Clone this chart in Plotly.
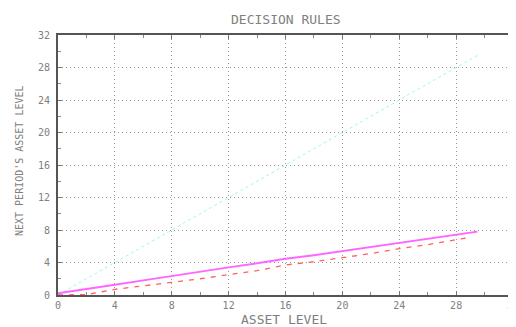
import plotly.graph_objects as go

asset = [0, 2, 4, 6, 8, 10, 12, 14, 16, 18, 20, 22, 24, 26, 28, 29.5]
identity = [0, 2, 4, 6, 8, 10, 12, 14, 16, 18, 20, 22, 24, 26, 28, 29.5]
rule_a = [0.2, 0.7, 1.25, 1.8, 2.35, 2.85, 3.4, 3.9, 4.45, 4.9, 5.4, 5.85, 6.4, 6.9, 7.4, 7.8]
asset_b = [0, 2, 4, 6, 8, 10, 12, 14, 16, 18, 20, 22, 24, 26, 28, 29]
rule_b = [0.0, 0.05, 0.7, 1.1, 1.55, 2.0, 2.5, 3.0, 3.7, 4.1, 4.6, 5.1, 5.7, 6.2, 6.8, 7.1]
ticks = [0, 4, 8, 12, 16, 20, 24, 28, 32]

tick_font = dict(family="DejaVu Sans Mono", size=10, color="#808080")
label_font = dict(family="DejaVu Sans Mono", size=13, color="#808080")
ylabel_font = dict(family="DejaVu Sans Mono", size=10, color="#808080")

fig = go.Figure()
fig.add_trace(go.Scatter(x=asset, y=identity, mode="lines",
                         line=dict(color="#9ff5f5", width=1, dash="dot")))
fig.add_trace(go.Scatter(x=asset_b, y=rule_b, mode="lines",
                         line=dict(color="#ff6060", width=1.3, dash="5px,6px")))
fig.add_trace(go.Scatter(x=asset, y=rule_a, mode="lines",
                         line=dict(color="#ff66ff", width=2)))

axis_common = dict(
    range=[0, 32], tickvals=ticks, ticktext=[str(t) for t in ticks],
    showline=True, linecolor="#555555", linewidth=2, mirror="allticks",
    ticks="inside", ticklen=4, tickcolor="#777777",
    showgrid=True, gridcolor="#999999", griddash="1px,3px", gridwidth=1,
    minor=dict(dtick=2, ticks="inside", ticklen=3, tickcolor="#888888", showgrid=False),
    zeroline=False, tickfont=tick_font, automargin=False,
)

# page body has an 8px default margin, so margins are offset to place the plot area
fig.update_layout(
    width=516, height=327,
    margin=dict(l=50, r=11, t=27, b=40),
    plot_bgcolor="white", paper_bgcolor="white",
    showlegend=False,
    xaxis=dict(ticklabelstandoff=0, **axis_common),
    yaxis=dict(ticklabelstandoff=4, **axis_common),
    annotations=[
        dict(text="DECISION RULES", xref="paper", yref="paper", x=0.5, y=1,
             yshift=16, showarrow=False, font=label_font, yanchor="middle"),
        dict(text="ASSET LEVEL", xref="paper", yref="paper", x=0.496, y=0,
             yshift=-24, showarrow=False, font=label_font, yanchor="middle"),
        dict(text="NEXT PERIOD'S ASSET LEVEL", xref="paper", yref="paper", x=0, y=0.5,
             xshift=-39, yshift=4, showarrow=False, font=ylabel_font, textangle=-90,
             xanchor="center", yanchor="middle"),
    ],
    shapes=[
        dict(type="line", xref="paper", yref="paper", x0=1, x1=1, y0=0, y1=1,
             line=dict(color="#bbbbbb", width=2), layer="above"),
    ],
)

fig.write_html("out.html")
